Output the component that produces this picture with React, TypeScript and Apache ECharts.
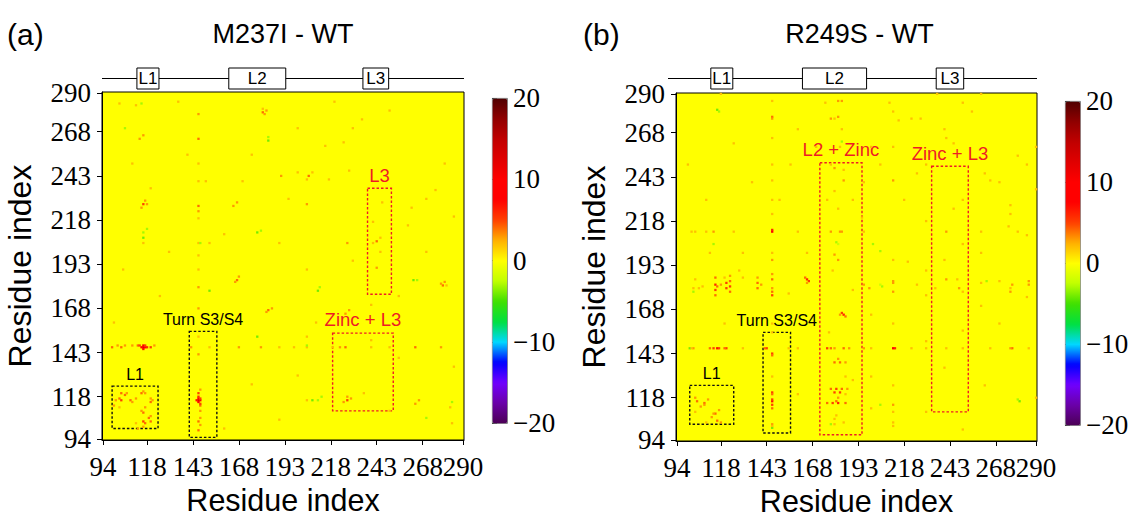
import React, { useEffect, useRef } from 'react';
import * as echarts from 'echarts';

// ---------------- data ----------------
const residues: string[] = Array.from({ length: 197 }, (_, i) => String(94 + i));
const tickLabels = ['94', '118', '143', '168', '193', '218', '243', '268', '290'];
const colorMin = -20;
const colorMax = 20;
const colorStep = 10;
const scaleColors = [
  '#4b0055', '#6a00a8', '#7000ff', '#0000ff', '#00d8ff', '#00e040', '#40e000', '#c0ff00',
  '#ffff00', '#ffb000', '#ff4000', '#ff0000', '#ff0000', '#e00000', '#c00000', '#900000', '#500000',
];
const panelTitles = ['M237I - WT', 'R249S - WT'];
const panelTags = ['(a)', '(b)'];
const loopNames = ['L1', 'L2', 'L3'];
const loopStartA = [113, 163, 236];
const loopEndA = [124, 193, 249];
const loopStartB = [113, 163, 236];
const loopEndB = [124, 197, 250];

// symmetric contact-difference pairs [residue i, residue j, difference]
const contactsA: [number, number, number][] = [
  [103, 117, 4], [104, 116, 5], [106, 119, 4], [109, 116, 4], [110, 115, 3], [104, 120, 4], [101, 116, 3],
  [107, 120, 3], [112, 117, 3], [100, 113, 3], [115, 120, 4], [116, 121, 3], [117, 120, 3], [103, 112, 2],
  [116, 146, 13], [115, 146, 9], [117, 146, 8], [118, 146, 6], [120, 146, 5], [116, 145, 7], [116, 147, 8],
  [117, 147, 5], [113, 147, 4], [110, 147, 3], [106, 147, 3], [102, 147, 3], [99, 146, 4], [104, 146, 4],
  [122, 147, 3], [114, 147, 5],
  [146, 264, 4], [146, 226, 4], [146, 223, 3], [146, 180, 3], [146, 168, 3], [142, 146, 3], [146, 152, 2],
  [146, 190, 2], [146, 205, 2], [146, 219, 2], [146, 278, 3], [146, 240, 2], [146, 250, 2], [146, 198, 2],
  [116, 227, 5], [117, 229, 3], [115, 225, 3], [118, 227, 3], [165, 226, 3], [167, 228, 3], [181, 279, 4],
  [183, 280, 3], [182, 278, 3], [114, 264, 3], [116, 266, 3], [167, 184, 4], [168, 186, 3], [166, 183, 3],
  [206, 243, 4], [205, 241, 2], [208, 245, 2], [191, 243, 3], [217, 241, 2], [228, 246, 2], [116, 205, 2],
  [152, 205, 2], [205, 227, 3], [103, 284, 2], [120, 236, 2], [150, 240, 2], [175, 255, 2], [195, 230, 2],
  [130, 200, 2], [160, 210, 2], [140, 255, 2], [200, 270, 2], [220, 285, 2], [105, 190, 2], [125, 175, 2],
  [230, 270, 2], [250, 280, 2], [170, 240, 2], [190, 205, 2], [215, 260, 2], [235, 275, 2], [100, 160, 2],
  [110, 250, 2], [135, 285, 2], [181, 281, 2], [112, 283, 2], [225, 262, 2], [200, 245, 2],
  [184, 263, -4], [116, 211, -3], [152, 178, -4], [147, 205, -3], [116, 208, -4], [178, 211, -4],
  [180, 212, -3], [118, 213, -3], [106, 270, -3], [184, 265, -3], [115, 284, -3],
];
const contactsB: [number, number, number][] = [
  [105, 116, 4], [109, 115, 4], [109, 114, 3], [107, 113, 3], [104, 118, 3], [111, 117, 3], [104, 110, 2],
  [114, 146, 5], [116, 146, 7], [117, 146, 5], [121, 146, 5], [120, 146, 4], [112, 146, 4], [103, 146, 3],
  [101, 146, -4], [143, 146, 5], [142, 146, 4], [146, 155, 2],
  [102, 146, 2], [146, 176, 5], [146, 178, 4], [146, 185, 4], [146, 196, 3], [146, 212, 9], [146, 213, 6],
  [146, 241, 2], [146, 277, 4], [146, 276, 3], [146, 188, 3], [146, 180, 3], [146, 230, 2], [146, 160, 2],
  [146, 200, 2], [146, 250, 2], [146, 265, 2], [146, 222, 2], [146, 286, 2],
  [184, 212, 3], [178, 212, 3], [110, 212, 2], [102, 212, 2], [114, 212, 3], [212, 241, 3], [183, 212, 3],
  [212, 260, 2], [212, 280, 2], [125, 212, 2], [160, 212, 2],
  [180, 248, 3], [178, 250, 2], [181, 206, -3], [180, 199, 3], [165, 185, 6], [166, 184, 5], [164, 186, 4],
  [165, 183, 3], [138, 180, 4], [138, 183, 4], [138, 186, 3], [123, 178, 4], [123, 181, 5], [123, 184, 4],
  [123, 187, 3], [121, 180, 5], [121, 183, 5], [115, 176, 4], [115, 179, 5], [115, 182, 6], [115, 186, 4],
  [116, 181, 4], [103, 180, 2], [103, 178, -3], [140, 182, 3], [182, 196, 3], [182, 277, 3], [184, 286, 3],
  [180, 276, 2], [185, 241, 3], [185, 247, 2], [182, 286, 3], [178, 276, 3], [179, 190, 2], [176, 230, 2],
  [182, 225, 2], [183, 260, 2], [180, 235, 2], [184, 270, 2], [181, 108, 2], [186, 130, 2], [177, 155, 2],
  [227, 276, 2], [114, 205, -3], [201, 205, -3], [182, 205, -2], [184, 263, -3], [116, 281, -4],
  [117, 280, -3], [118, 290, 2],
  [120, 160, 2], [130, 200, 2], [150, 230, 2], [160, 270, 2], [190, 230, 2], [200, 260, 2], [210, 285, 2],
  [230, 250, 2], [240, 270, 2], [250, 285, 2], [100, 250, 2], [110, 230, 2], [125, 262, 2], [135, 240, 2],
  [165, 200, 2], [170, 260, 2], [195, 220, 2], [205, 250, 2], [215, 275, 2], [225, 245, 2], [245, 262, 2],
  [255, 280, 2], [106, 180, 2], [112, 200, 2], [128, 190, 2], [156, 250, 2], [175, 285, 2], [218, 230, 2],
  [236, 290, 2], [260, 290, 2], [104, 185, 2], [118, 182, 3], [120, 186, 2], [104, 212, 2], [130, 146, 2],
  [196, 212, 2], [241, 265, 2], [196, 240, 2], [222, 276, 2],
];

type Region = { label: string; x: [number, number]; y: [number, number]; red: boolean };
const regionsA: Region[] = [
  { label: 'L1', x: [99, 124], y: [100, 124], red: false },
  { label: 'Turn S3/S4', x: [141, 156], y: [95, 155], red: false },
  { label: 'Zinc + L3', x: [219, 252], y: [110, 154], red: true },
  { label: 'L3', x: [238, 251], y: [176, 236], red: true },
];
const regionsB: Region[] = [
  { label: 'L1', x: [101, 125], y: [103, 125], red: false },
  { label: 'Turn S3/S4', x: [141, 156], y: [98, 155], red: false },
  { label: 'L2 + Zinc', x: [172, 195], y: [97, 251], red: true },
  { label: 'Zinc + L3', x: [233, 253], y: [110, 249], red: true },
];

// ---------------- component ----------------
export default function App() {
  const ref = useRef<HTMLDivElement>(null);

  useEffect(() => {
    const chart = echarts.init(ref.current!, null, { renderer: 'svg' });
    const serif = 'Liberation Serif';
    const sans = 'Liberation Sans';
    const RED = '#ee1c24';
    const tickSet = new Set(tickLabels);
    const showTick = (_i: number, v: string) => tickSet.has(v);

    const panels = [
      { grid: { left: 102, top: 92, width: 362, height: 348 }, contacts: contactsA, regions: regionsA,
        cb: { left: 492, top: 98, width: 15, height: 325 }, loopS: loopStartA, loopE: loopEndA, lineX0: 102 },
      { grid: { left: 676, top: 93, width: 361, height: 348 }, contacts: contactsB, regions: regionsB,
        cb: { left: 1065, top: 101, width: 15, height: 324 }, loopS: loopStartB, loopE: loopEndB, lineX0: 668 },
    ];

    const grids: any[] = [];
    const xAxes: any[] = [];
    const yAxes: any[] = [];
    const series: any[] = [];
    const visualMaps: any[] = [];

    const catAxisCommon = (gridIndex: number) => ({
      gridIndex,
      type: 'category',
      data: residues,
      boundaryGap: true,
      axisLine: { show: true, lineStyle: { color: '#000', width: 1 } },
      axisTick: { show: true, alignWithLabel: true, interval: showTick, length: 5, lineStyle: { color: '#000' } },
      axisLabel: { interval: showTick, fontFamily: serif, fontSize: 27, color: '#000' },
      splitLine: { show: false },
      name: 'Residue index',
      nameLocation: 'middle',
      nameTextStyle: { fontFamily: sans, fontSize: 32, color: '#000' },
    });

    panels.forEach((p, k) => {
      grids.push({
        ...p.grid, show: true, backgroundColor: '#ffff00', borderColor: '#000', borderWidth: 1,
        containLabel: false, outerBoundsMode: 'none',
      });
      const xa: any = catAxisCommon(k);
      xa.axisLabel = { ...xa.axisLabel, margin: 13 };
      xa.nameGap = 47;
      xa.nameTextStyle = { ...xa.nameTextStyle, fontSize: 30.5, lineHeight: 24 };
      xAxes.push(xa);
      const ya: any = catAxisCommon(k);
      ya.axisLabel = { ...ya.axisLabel, margin: 11 };
      ya.nameGap = 66;
      yAxes.push(ya);
    });
    panels.forEach((p, k) => {
      grids.push({ ...p.cb, show: false, containLabel: false, outerBoundsMode: 'none' });
      xAxes.push({ gridIndex: 2 + k, type: 'value', show: false, min: 0, max: 1 });
      yAxes.push({
        gridIndex: 2 + k, type: 'value', position: 'right', min: colorMin, max: colorMax, interval: colorStep,
        axisLine: { show: false },
        axisTick: { show: true, length: 5, lineStyle: { color: '#333' } },
        splitLine: { show: false },
        axisLabel: {
          fontFamily: serif, fontSize: 27, color: '#000', margin: 6,
          formatter: (v: number) => (v < 0 ? '\u2212' + Math.abs(v) : String(v)),
        },
      });
    });

    panels.forEach((p, k) => {
      const data: number[][] = [];
      p.contacts.forEach(([a, b, v]) => {
        data.push([a - 94, b - 94, v]);
        if (a !== b) data.push([b - 94, a - 94, v]);
      });
      series.push({
        type: 'heatmap', xAxisIndex: k, yAxisIndex: k, data, progressive: 0, silent: true,
        emphasis: { disabled: true },
      });
    });
    panels.forEach((p, k) => {
      series.push({
        type: 'scatter', xAxisIndex: k, yAxisIndex: k, data: [], silent: true,
        markArea: {
          silent: true,
          itemStyle: { color: 'rgba(0,0,0,0)', borderWidth: 1.4, borderType: [2.5, 2] },
          label: { position: 'top', distance: 3, fontFamily: sans },
          data: p.regions.map((r) => [
            {
              name: r.label, xAxis: String(r.x[0]), yAxis: String(r.y[1]),
              itemStyle: { borderColor: r.red ? RED : '#111' },
              label: { color: r.red ? RED : '#000', fontSize: r.red ? 18.5 : 16 },
            },
            { xAxis: String(r.x[1]), yAxis: String(r.y[0]) },
          ]),
        },
      });
    });
    panels.forEach((_p, k) => {
      series.push({ type: 'scatter', xAxisIndex: 2 + k, yAxisIndex: 2 + k, data: [], silent: true });
    });
    panels.forEach((p, k) => {
      visualMaps.push({
        type: 'continuous', seriesIndex: k, dimension: 2, min: colorMin, max: colorMax,
        calculable: false, hoverLink: false, realtime: false,
        left: p.cb.left, top: p.cb.top, itemWidth: p.cb.width, itemHeight: p.cb.height,
        padding: 0, borderColor: '#555', borderWidth: 0.8,
        inRange: { color: scaleColors },
      });
    });

    chart.setOption({
      animation: false,
      backgroundColor: '#fff',
      grid: grids,
      xAxis: xAxes,
      yAxis: yAxes,
      visualMap: visualMaps,
      series,
    });

    // decorations: titles and loop bars above each map
    const elements: any[] = [];
    panels.forEach((p, k) => {
      const cx = p.grid.left + p.grid.width / 2;
      elements.push({
        type: 'text', x: k === 0 ? 7 : 583, y: 34,
        style: { text: panelTags[k], fontFamily: sans, fontSize: 30, fill: '#000', textVerticalAlign: 'middle' },
      });
      elements.push({
        type: 'text', x: cx + (k === 0 ? 0 : 3), y: 34,
        style: { text: panelTitles[k], fontFamily: sans, fontSize: 27, fill: '#000', textAlign: 'center', textVerticalAlign: 'middle' },
      });
      const px = (r: number) => chart.convertToPixel({ xAxisIndex: k } as any, r - 94) as number;
      const bw = p.grid.width / residues.length;
      const lineY = 78.5;
      elements.push({
        type: 'line', shape: { x1: p.lineX0, y1: lineY, x2: p.grid.left + p.grid.width, y2: lineY },
        style: { stroke: '#000', lineWidth: 1.2 },
      });
      loopNames.forEach((name, i) => {
        const x0 = px(p.loopS[i]) - bw / 2;
        const x1 = px(p.loopE[i]) + bw / 2;
        elements.push({
          type: 'rect', shape: { x: x0, y: 68, width: x1 - x0, height: 21 },
          style: { fill: '#fff', stroke: '#000', lineWidth: 1 },
        });
        elements.push({
          type: 'text', x: (x0 + x1) / 2, y: 78.5,
          style: { text: name, fontFamily: sans, fontSize: 17, fill: '#000', textAlign: 'center', textVerticalAlign: 'middle' },
        });
      });
    });
    chart.setOption({ graphic: { elements } });

    return () => chart.dispose();
  }, []);

  return <div ref={ref} style={{ position: 'fixed', left: 0, top: 0, width: 1133, height: 517 }} />;
}
